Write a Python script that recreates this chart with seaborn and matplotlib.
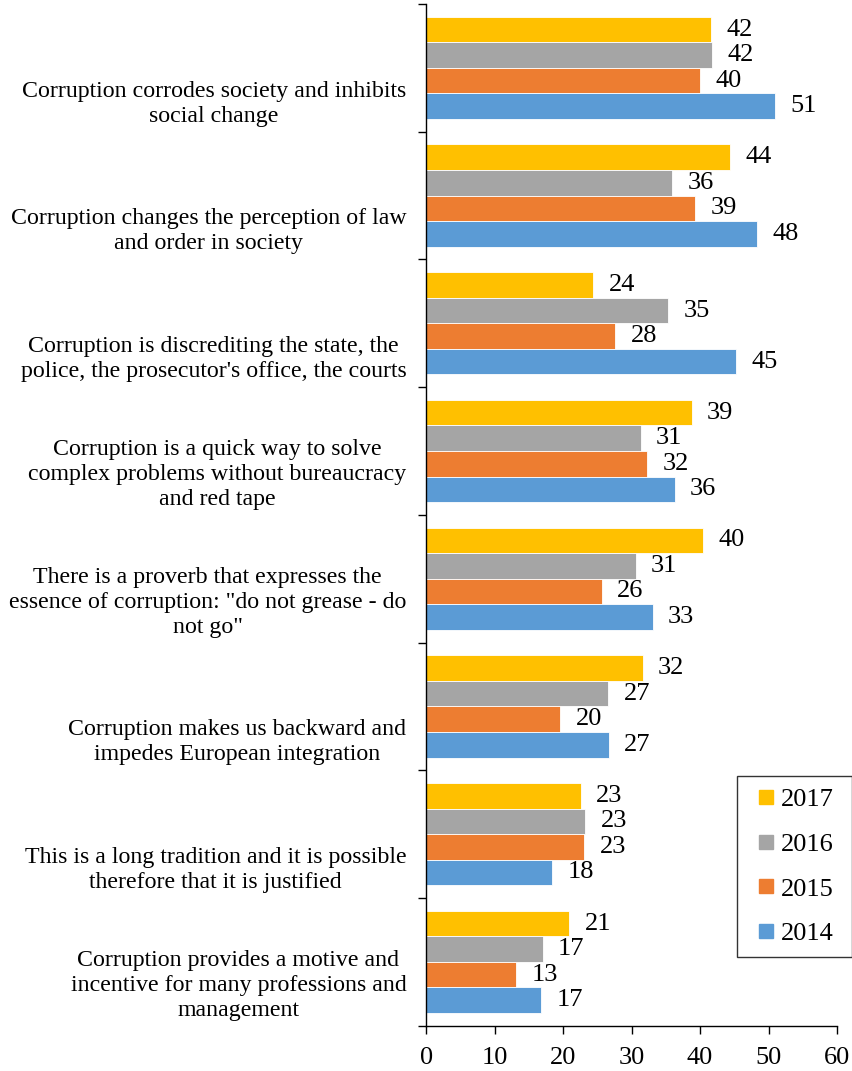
import pandas as pd
import numpy as np
import matplotlib.pyplot as plt
import matplotlib.transforms as mtransforms
from matplotlib.lines import Line2D
import seaborn as sns

# statements (top to bottom)
statements = [
    "Corruption corrodes society and inhibits\nsocial change",
    "Corruption changes the perception of law\nand order in society",
    "Corruption is discrediting the state, the\npolice, the prosecutor's office, the courts",
    "Corruption is a quick way to solve\ncomplex problems without bureaucracy\nand red tape",
    "There is a proverb that expresses the\nessence of corruption: \"do not grease - do\nnot go\"",
    "Corruption makes us backward and\nimpedes European integration",
    "This is a long tradition and it is possible\ntherefore that it is justified",
    "Corruption provides a motive and\nincentive for many professions and\nmanagement",
]
years = ["2017", "2016", "2015", "2014"]
colors = ["#FFC000", "#A5A5A5", "#ED7D31", "#5B9BD5"]

v2017 = [41.6, 44.4, 24.4, 38.8, 40.4, 31.6, 22.6, 20.9]
v2016 = [41.7, 35.9, 35.3, 31.3, 30.6, 26.6, 23.2, 17.0]
v2015 = [40.0, 39.3, 27.6, 32.3, 25.6, 19.6, 23.1, 13.1]
v2014 = [51.0, 48.3, 45.3, 36.3, 33.1, 26.7, 18.4, 16.8]

df = pd.DataFrame({
    "statement": statements * 4,
    "year": np.repeat(years, len(statements)),
    "value": v2017 + v2016 + v2015 + v2014,
})

sns.set_style("white")
plt.rcParams["font.family"] = ["Liberation Serif", "DejaVu Serif"]
plt.rcParams["text.color"] = "black"
plt.rcParams["xtick.color"] = "black"
plt.rcParams["ytick.color"] = "black"

fig = plt.figure(figsize=(8.53, 10.71), dpi=100)
ax = fig.add_axes([426.3 / 853, 1 - 1025.7 / 1071, (837 - 426.3) / 853, (1025.7 - 4) / 1071])

sns.barplot(data=df, y="statement", x="value", hue="year", order=statements,
            hue_order=years, palette=colors, orient="h", width=0.8,
            edgecolor="white", linewidth=0.6, saturation=1, legend=False, ax=ax)

for cont in ax.containers:
    ax.bar_label(cont, fmt="%.0f", padding=11, fontsize=19, color="black")

ax.set_xlim(0, 60)
ax.set_xticks(range(0, 61, 10))
ax.set_ylim(len(statements) - 0.5, -0.5)
ax.set_xlabel("")
ax.set_ylabel("")

# category boundary ticks on the left
ax.set_yticks(np.arange(-0.5, len(statements), 1))
ax.set_yticklabels([])
ax.tick_params(axis="y", left=True, length=6, width=1, color="black")
ax.tick_params(axis="x", bottom=True, length=6, width=1, color="black",
               labelcolor="black", labelsize=19, pad=9)

sns.despine(ax=ax, top=True, right=True)
for s in ["left", "bottom"]:
    ax.spines[s].set_color("black")
    ax.spines[s].set_linewidth(1)

trans = mtransforms.blended_transform_factory(ax.transAxes, ax.transData)
off = mtransforms.ScaledTranslation(-20 / 100, 5 / 100, fig.dpi_scale_trans)
for i, s in enumerate(statements):
    ax.text(0, i + 0.5, s, transform=trans + off, ha="right", va="bottom",
            multialignment="center", fontsize=17.2, linespacing=1.25,
            color="black")

handles = [Line2D([], [], marker="s", linestyle="", markersize=10, color=c)
           for c in colors]
leg = ax.legend(handles, years, loc="upper left",
                bbox_to_anchor=(737 / 853, 1 - 958 / 1071, (852 - 737) / 853, (958 - 776) / 1071),
                bbox_transform=fig.transFigure, mode="expand", frameon=True,
                fancybox=False, fontsize=19, handlelength=1.3,
                handletextpad=-0.1, labelspacing=0.8, borderpad=0.45,
                borderaxespad=0)
leg.get_frame().set_edgecolor("black")
leg.get_frame().set_linewidth(1)
for t in leg.get_texts():
    t.set_color("black")

fig.savefig("out.png", dpi=100)
